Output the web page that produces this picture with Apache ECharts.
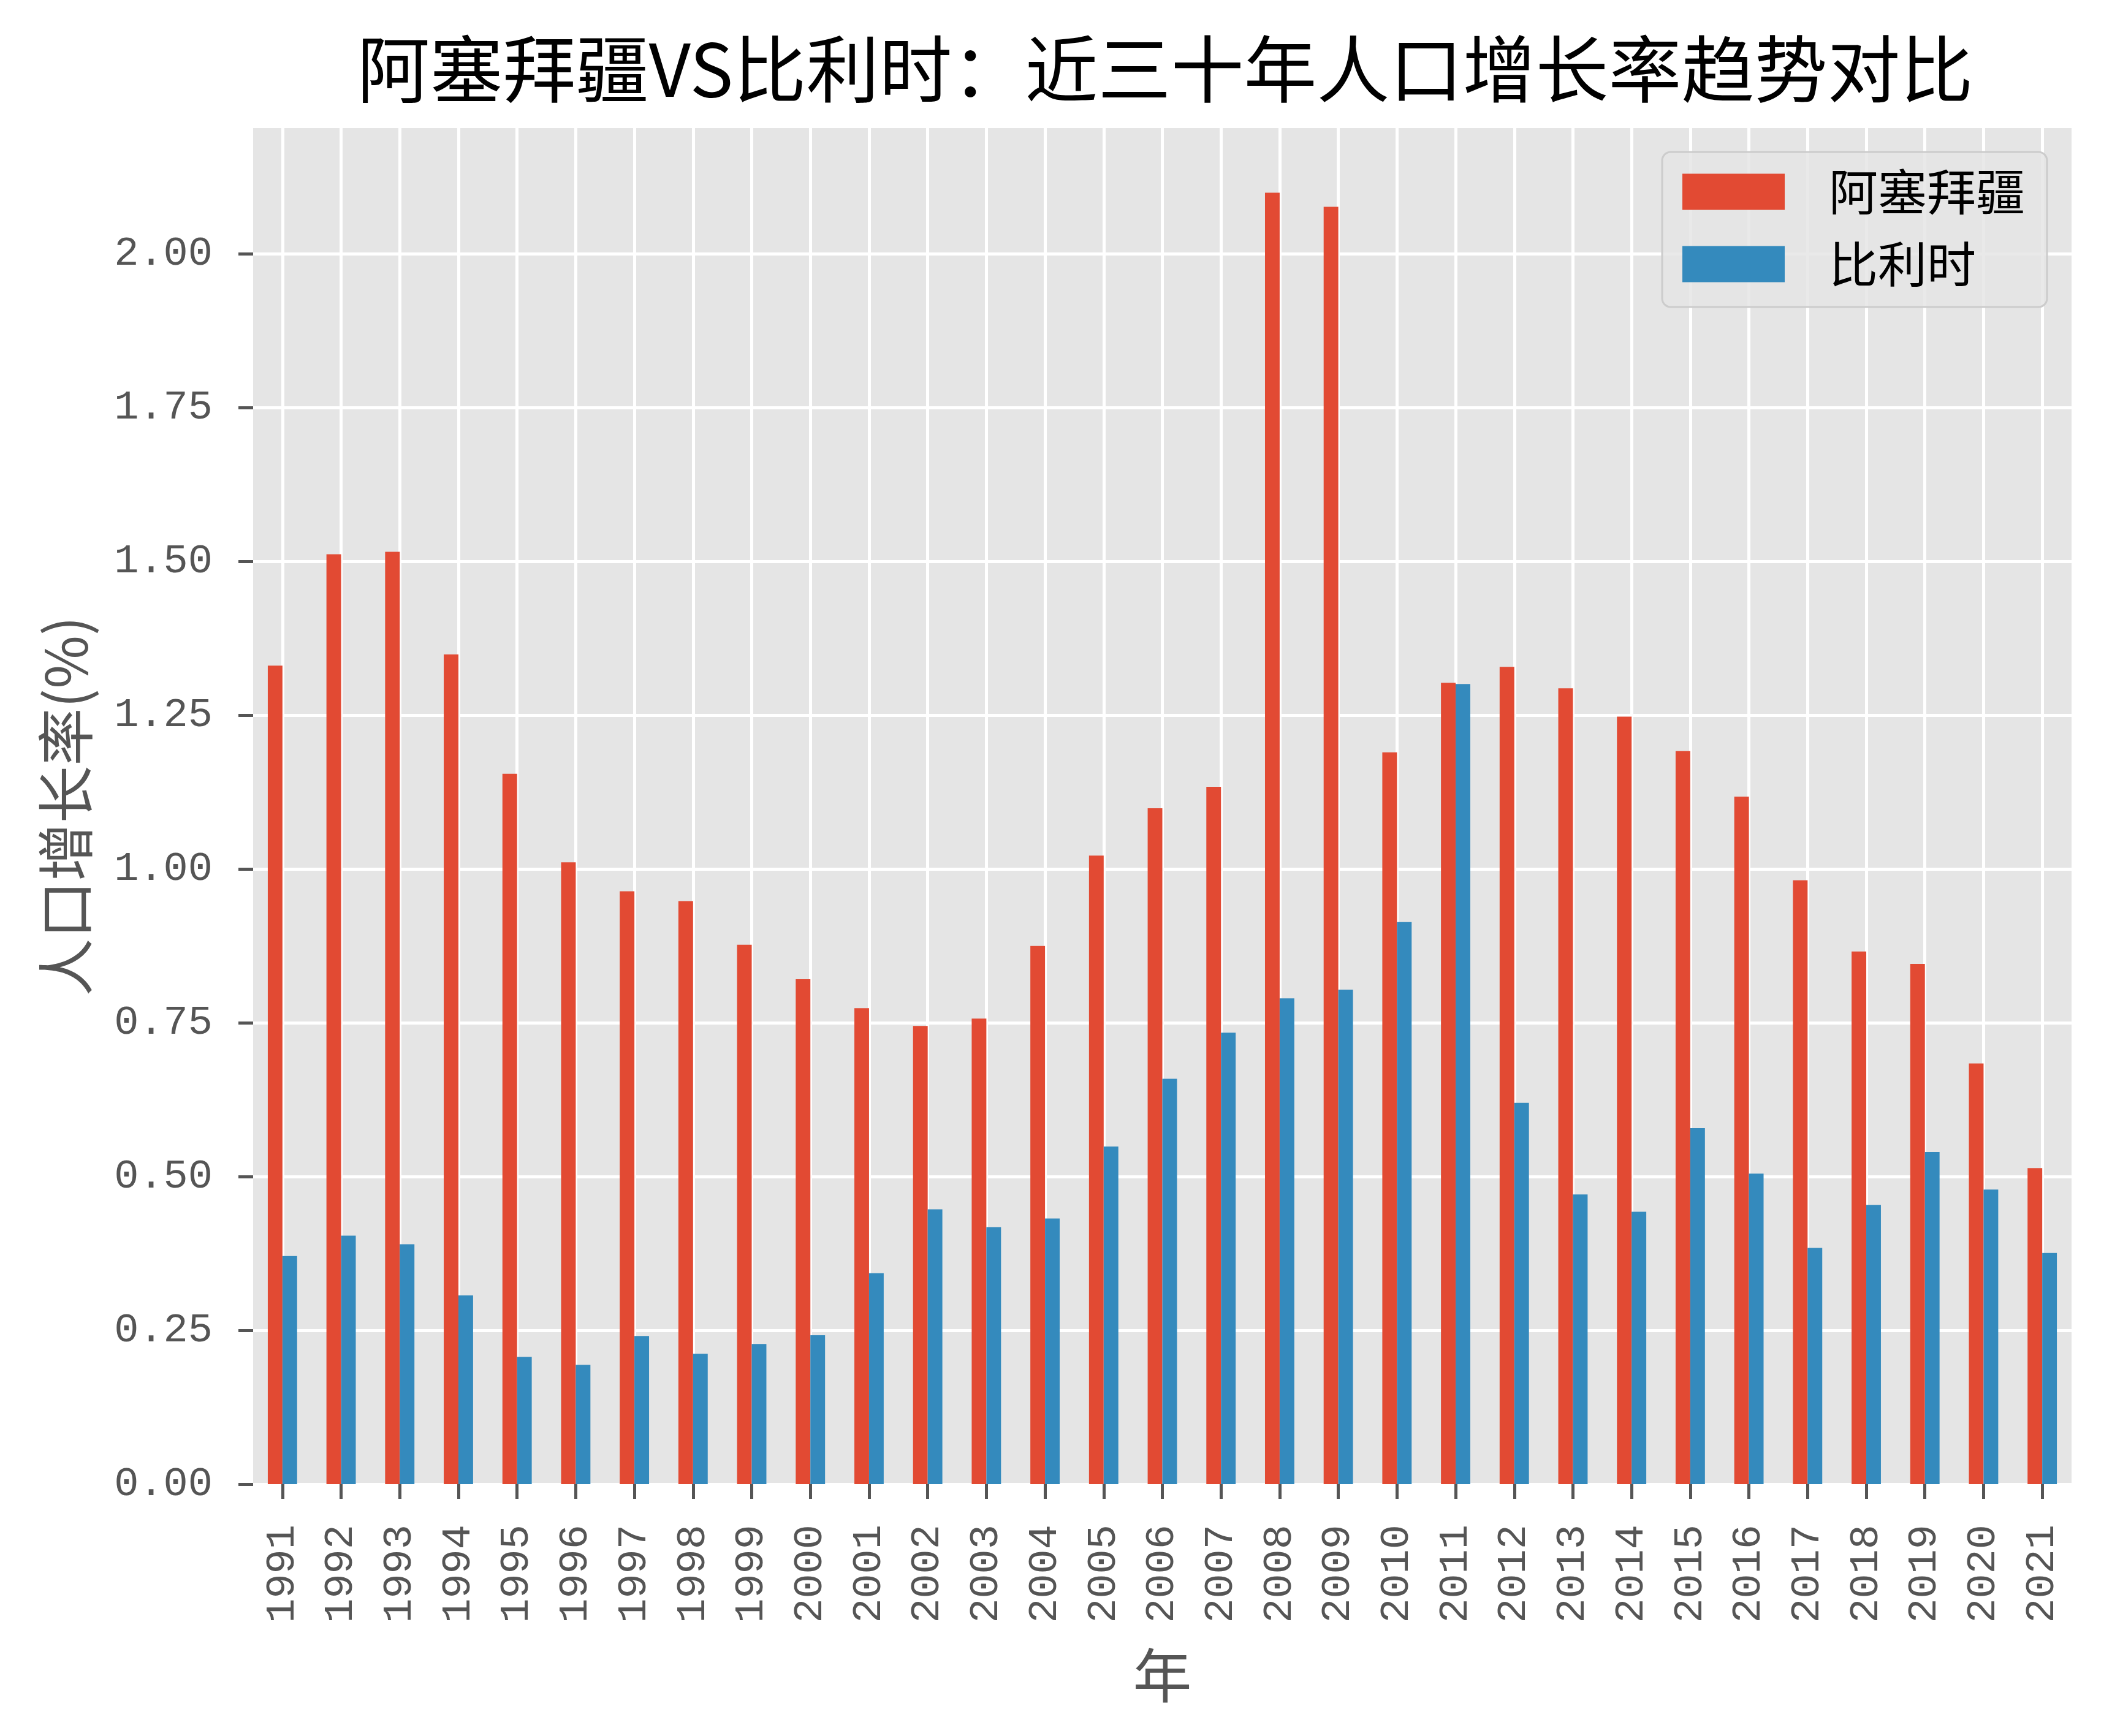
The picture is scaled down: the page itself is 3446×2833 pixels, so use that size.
<!DOCTYPE html>
<html>
<head>
<meta charset="utf-8">
<script src="https://cdn.jsdelivr.net/npm/echarts@6/dist/echarts.min.js"></script>
<style>
html,body{margin:0;padding:0;background:#fff;}
#chart{width:3446px;height:2833px;}
</style>
</head>
<body>
<div id="chart"></div>
<script>
const years = ['1991','1992','1993','1994','1995','1996','1997','1998','1999','2000','2001','2002','2003','2004','2005','2006','2007','2008','2009','2010','2011','2012','2013','2014','2015','2016','2017','2018','2019','2020','2021'];
const azerbaijan = [1.331,1.512,1.516,1.349,1.155,1.011,0.964,0.948,0.877,0.821,0.774,0.745,0.757,0.875,1.022,1.099,1.134,2.100,2.077,1.190,1.303,1.329,1.294,1.248,1.192,1.118,0.982,0.866,0.846,0.684,0.514];
const belgium = [0.371,0.404,0.390,0.307,0.207,0.194,0.241,0.212,0.228,0.242,0.343,0.447,0.418,0.432,0.549,0.659,0.734,0.790,0.804,0.914,1.301,0.620,0.471,0.443,0.579,0.505,0.384,0.454,0.540,0.479,0.376];
const yTicks = [0,0.25,0.5,0.75,1.0,1.25,1.5,1.75,2.0];
const seriesNames = ['阿塞拜疆','比利时'];
const titleText = '阿塞拜疆VS比利时：近三十年人口增长率趋势对比';
const xName = '年';
const yName = '人口增长率(%)';

const chart = echarts.init(document.getElementById('chart'), null, {renderer:'canvas'});
const tickFont = '"Liberation Mono", "DejaVu Sans Mono", monospace';
const cjkFont = '"Noto Sans CJK SC", "Noto Sans", sans-serif';
chart.setOption({
  backgroundColor:'#ffffff',
  animation:false,
  title:{
    text:titleText,
    left:1896, top:46, textAlign:'center',
    textStyle:{fontFamily:cjkFont, fontSize:119, fontWeight:'normal', color:'#000', lineHeight:124}
  },
  legend:{
    orient:'vertical',
    left:2712, top:248,
    padding:[25,36,30,33],
    itemWidth:167, itemHeight:59, itemGap:38,
    icon:'rect',
    backgroundColor:'rgba(229,229,229,0.85)',
    borderColor:'#cccccc', borderWidth:3, borderRadius:14,
    textStyle:{fontFamily:cjkFont, fontSize:80, color:'#000', padding:[0,0,0,67]},
    data:seriesNames
  },
  grid:{left:413, right:66, top:209, bottom:411, containLabel:false,
        show:true, backgroundColor:'#e5e5e5', borderWidth:0},
  xAxis:{
    type:'category', data:years, boundaryGap:true,
    name:xName, nameLocation:'middle', nameGap:264,
    nameTextStyle:{fontFamily:cjkFont, fontSize:96, color:'#555'},
    axisLine:{show:false},
    axisTick:{show:true, alignWithLabel:true, length:24, lineStyle:{color:'#555', width:5}},
    axisLabel:{rotate:90, margin:66, fontFamily:tickFont, fontSize:67, color:'#555', interval:0},
    splitLine:{show:true, alignWithLabel:true, interval:0, lineStyle:{color:'#ffffff', width:5}}
  },
  yAxis:{
    type:'value', min:0, max:2.205, interval:0.25,
    name:yName, nameLocation:'middle', nameGap:259,
    nameTextStyle:{fontFamily:cjkFont, fontSize:94, color:'#555'},
    axisLine:{show:false},
    axisTick:{show:true, length:24, customValues:yTicks, lineStyle:{color:'#555', width:5}},
    axisLabel:{margin:66, fontFamily:tickFont, fontSize:67, color:'#555', customValues:yTicks,
      formatter:function(v){return v.toFixed(2);}},
    splitLine:{show:true, lineStyle:{color:'#ffffff', width:5}}
  },
  series:[
    {name:seriesNames[0], type:'bar', data:azerbaijan, barWidth:'25%', barGap:'0%', itemStyle:{color:'#E24A33'}},
    {name:seriesNames[1], type:'bar', data:belgium, barWidth:'25%', barGap:'0%', itemStyle:{color:'#348ABD'}}
  ]
});
</script>
</body>
</html>
